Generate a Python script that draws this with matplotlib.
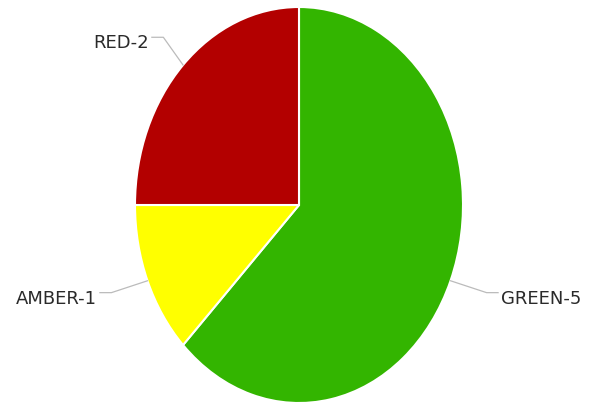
import matplotlib
matplotlib.use("Agg")
import matplotlib.pyplot as plt
import numpy as np

labels = ["GREEN", "AMBER", "RED"]
counts = [5, 1, 2]
colors = ["#33b500", "#ffff00", "#b30000"]

fig = plt.figure(figsize=(5.92, 4.03), dpi=100)
# pie is drawn stretched (taller than wide), so use a non-equal aspect axes
ax = fig.add_axes([135/592, 0.0, 328/592, 396/403])
wedges, _ = ax.pie(counts, colors=colors, startangle=90, counterclock=False,
                   radius=1.0, wedgeprops=dict(edgecolor="white", linewidth=1.5))
ax.set_aspect("auto")
ax.set_xlim(-1, 1)
ax.set_ylim(-1, 1)
ax.axis("off")

# labels with small leader lines
for lab, n, w in zip(labels, counts, wedges):
    mid = np.deg2rad((w.theta1 + w.theta2) / 2)
    x0, y0 = np.cos(mid), np.sin(mid)
    side = 1 if x0 > 0 else -1
    if y0 > 0.5:
        x1, y1 = x0 - 0.12, y0 + 0.14
    else:
        x1, y1 = x0 + side * 0.22, y0 - 0.06
    x2 = x1 + side * 0.07
    ax.plot([x0, x1, x2], [y0, y1, y1], color="#bbbbbb", lw=0.9, clip_on=False)
    ax.text(x2 + side * 0.02, y1 - 0.03, f"{lab}-{n}", ha="left" if side > 0 else "right",
            va="center", fontsize=13, color="#2a2a2a", clip_on=False)

fig.savefig("out.png", dpi=100)
